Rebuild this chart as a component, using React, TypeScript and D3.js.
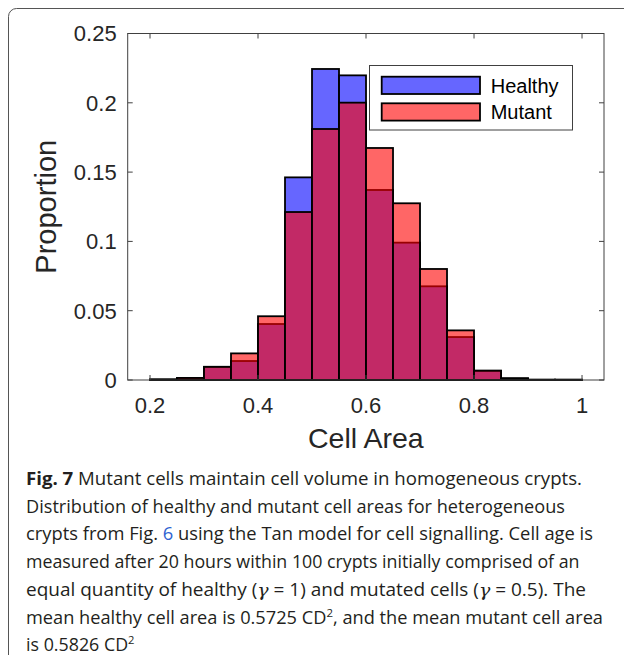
import React from "react";
import * as d3 from "d3";

const binStarts = [0.2, 0.25, 0.3, 0.35, 0.4, 0.45, 0.5, 0.55, 0.6, 0.65, 0.7, 0.75, 0.8, 0.85, 0.9, 0.95];
const binWidth = 0.05;
const healthy = [0.0004, 0.0015, 0.0095, 0.0137, 0.0404, 0.1462, 0.2244, 0.2198, 0.1371, 0.0991, 0.0676, 0.031, 0.0067, 0.0012, 0.0002, 0.0002];
const mutant = [0.0004, 0.0015, 0.0095, 0.0192, 0.046, 0.1212, 0.1811, 0.2001, 0.1674, 0.1275, 0.0801, 0.0358, 0.0067, 0.0012, 0.0002, 0.0002];
const xTicks = [0.2, 0.4, 0.6, 0.8, 1];
const xTickLabels = ["0.2", "0.4", "0.6", "0.8", "1"];
const yTicks = [0, 0.05, 0.1, 0.15, 0.2, 0.25];
const yTickLabels = ["0", "0.05", "0.1", "0.15", "0.2", "0.25"];
const seriesNames = ["Healthy", "Mutant"];

const FONT = "'Liberation Sans', Arial, Helvetica, sans-serif";
const CAP = "'Open Sans', 'Noto Sans', sans-serif";

export default function App() {
  const left = 127.7, right = 604, top = 33.5, bottom = 380;
  const x = d3.scaleLinear().domain([0.1587, 1.0407]).range([left, right]);
  const y = d3.scaleLinear().domain([0, 0.25]).range([bottom, top]);
  const tickLen = 5;
  const axisColor = "#404040";
  const textColor = "#262626";

  const bars = (vals: number[], color: string, key: string) =>
    vals.map((v, i) => {
      const x0 = x(binStarts[i]);
      const x1 = x(binStarts[i] + binWidth);
      return (
        <rect
          key={key + i}
          x={x0}
          y={y(v)}
          width={x1 - x0}
          height={y(0) - y(v)}
          fill={color}
          fillOpacity={0.6}
          stroke="#000"
          strokeWidth={1.8}
        />
      );
    });

  const capX = 26;
  const capLines: { ends: number; content: React.ReactNode }[] = [
    {
      ends: 582,
      content: (
        <>
          <tspan fontWeight="bold">Fig. 7</tspan> Mutant cells maintain cell volume in homogeneous crypts.
        </>
      ),
    },
    { ends: 565, content: <>Distribution of healthy and mutant cell areas for heterogeneous</> },
    {
      ends: 593,
      content: (
        <>
          crypts from Fig. <tspan fill="#2f63d1">6</tspan> using the Tan model for cell signalling. Cell age is
        </>
      ),
    },
    { ends: 579.5, content: <>measured after 20 hours within 100 crypts initially comprised of an</> },
    {
      ends: 586,
      content: (
        <>
          equal quantity of healthy (<tspan fontStyle="italic" fontFamily="'DejaVu Serif', serif">γ</tspan> = 1) and mutated cells (
          <tspan fontStyle="italic" fontFamily="'DejaVu Serif', serif">γ</tspan> = 0.5). The
        </>
      ),
    },
    {
      ends: 603,
      content: (
        <>
          mean healthy cell area is 0.5725 CD<tspan fontSize={11} dy={-7}>2</tspan>
          <tspan dy={7}>, and the mean mutant cell area</tspan>
        </>
      ),
    },
    {
      ends: 134.5,
      content: (
        <>
          is 0.5826 CD<tspan fontSize={11} dy={-7}>2</tspan>
        </>
      ),
    },
  ];
  const capBaselines = [485, 512.7, 540.4, 568.1, 595.8, 623.5, 650.5];

  const legX = 369.5, legY = 65.5, legW = 203, legH = 64.5;
  const patchX = 381.7, patchW = 98.3, patchH = 17.3;
  const patchYs = [76.7, 103.3];
  const legColors = ["#0000ff", "#ff0000"];

  return (
    <svg width={624} height={655} style={{ position: "absolute", left: 0, top: 0, background: "#fff" }}>
      <rect x={8.5} y={8.5} width={700} height={700} rx={8} fill="none" stroke="#555" strokeWidth={1} />

      {/* bars */}
      {bars(healthy, "#0000ff", "h")}
      {bars(mutant, "#ff0000", "m")}

      {/* axes box */}
      <rect x={left} y={top} width={right - left} height={bottom - top} fill="none" stroke={axisColor} strokeWidth={1} />
      {xTicks.map((t, i) => (
        <g key={"xt" + i}>
          <line x1={x(t)} x2={x(t)} y1={bottom} y2={bottom - tickLen} stroke={axisColor} />
          <line x1={x(t)} x2={x(t)} y1={top} y2={top + tickLen} stroke={axisColor} />
          <text x={x(t)} y={413} textAnchor="middle" fontFamily={FONT} fontSize={22} fill={textColor}>
            {xTickLabels[i]}
          </text>
        </g>
      ))}
      {yTicks.map((t, i) => (
        <g key={"yt" + i}>
          <line x1={left} x2={left + tickLen} y1={y(t)} y2={y(t)} stroke={axisColor} />
          <line x1={right} x2={right - tickLen} y1={y(t)} y2={y(t)} stroke={axisColor} />
          <text x={116.7} y={y(t) + 7.8} textAnchor="end" fontFamily={FONT} fontSize={22} fill={textColor}>
            {yTickLabels[i]}
          </text>
        </g>
      ))}

      <text x={(left + right) / 2} y={448} textAnchor="middle" fontFamily={FONT} fontSize={28.5} fill={textColor}>
        Cell Area
      </text>
      <text
        transform={`translate(56, ${(top + bottom) / 2}) rotate(-90)`}
        textAnchor="middle"
        fontFamily={FONT}
        fontSize={29}
        fill={textColor}
      >
        Proportion
      </text>

      {/* legend */}
      <rect x={legX} y={legY} width={legW} height={legH} fill="#fff" stroke={axisColor} strokeWidth={1} />
      {seriesNames.map((s, i) => (
        <g key={"lg" + i}>
          <rect x={patchX} y={patchYs[i]} width={patchW} height={patchH} fill={legColors[i]} fillOpacity={0.6} stroke="#000" strokeWidth={1.8} />
          <text x={490.7} y={patchYs[i] + 16} fontFamily={FONT} fontSize={20} fill="#000">
            {s}
          </text>
        </g>
      ))}

      {/* caption */}
      {capLines.map((l, i) => (
        <text
          key={"cap" + i}
          x={capX}
          y={capBaselines[i]}
          fontFamily={CAP}
          fontSize={17.5}
          fill="#231f20"
          textLength={l.ends - capX}
          lengthAdjust="spacingAndGlyphs"
        >
          {l.content}
        </text>
      ))}
    </svg>
  );
}
